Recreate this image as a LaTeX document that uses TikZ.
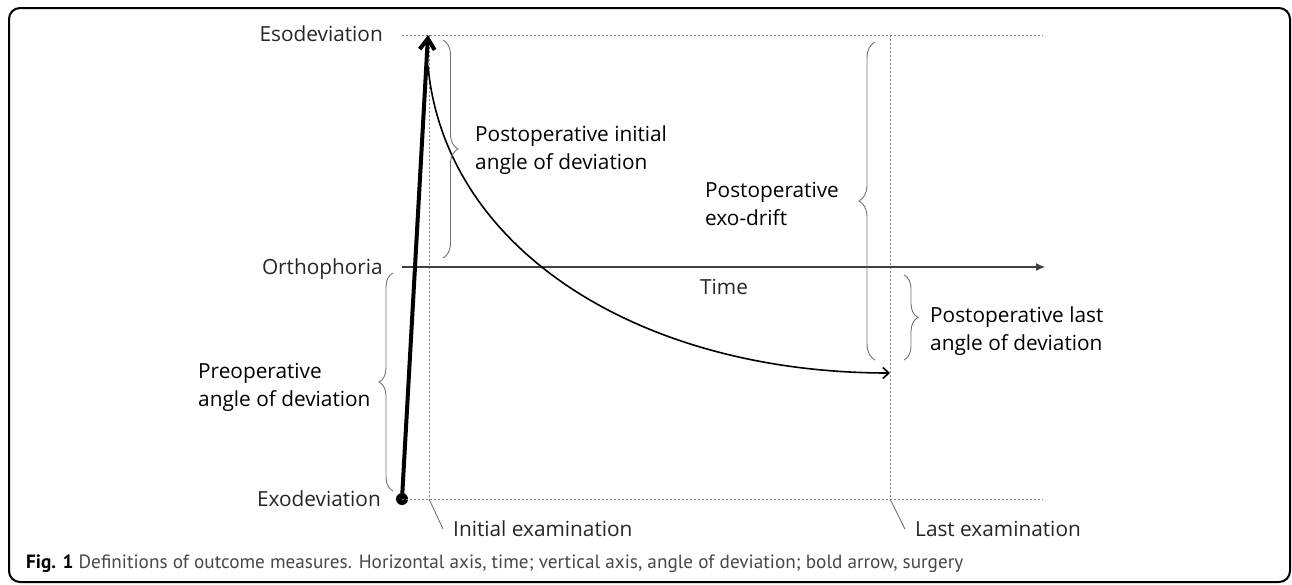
\documentclass[tikz,border=0pt]{standalone}
\usepackage{fontspec}
\setmainfont{Open Sans}
\newfontfamily\capfont{PT Sans}
\usetikzlibrary{arrows.meta,decorations.pathreplacing}
\begin{document}
\begin{tikzpicture}[x=1pt,y=-1pt,
  dotline/.style={black!50, line width=1pt, dash pattern=on 2pt off 2pt},
  axisline/.style={black!75, line width=1.1pt, -{Latex[length=9pt,width=8pt]}},
  surgery/.style={line width=4pt, -{Straight Barb[length=11pt,width=15pt]}},
  course/.style={line width=1.6pt, -{Straight Barb[length=6pt,width=11pt]}},
  leader/.style={black!60, line width=0.8pt},
  curly/.style={decorate, decoration={brace, amplitude=#1}, draw=black!55, line width=0.9pt},
  axislbl/.style={inner sep=0pt, font=\fontsize{20.8}{28}\selectfont, text=black!85},
  lbl/.style={inner sep=0pt, font=\fontsize{20.8}{28}\selectfont, text=black},
  frame/.style={line width=2pt, rounded corners=11pt}
]
\useasboundingbox (0,0) rectangle (1292,584);
\draw[frame] (9,8) rectangle (1290,582);

% coordinates
\coordinate (esoL) at (402,35);
\coordinate (esoR) at (1043,35);
\coordinate (orthoL) at (402,267);
\coordinate (orthoR) at (1045,267);
\coordinate (exoR) at (1043,499);
\coordinate (ieTop) at (429,35);
\coordinate (ieBot) at (429,499);
\coordinate (leTop) at (890,35);
\coordinate (leBot) at (890,499);
\coordinate (peak) at (428,35);
\coordinate (cStart) at (428,66);
\coordinate (cEnd) at (890,373);
\node[circle, fill=black, inner sep=0pt, minimum size=12pt] (start) at (402,499) {};

% guide lines
\draw[dotline] (esoL) -- (esoR);
\draw[dotline] (start.center) -- (exoR);
\draw[dotline] (ieTop) -- (ieBot);
\draw[dotline] (leTop) -- (leBot);
\draw[axisline] (orthoL) -- (orthoR);

% surgery arrow and postoperative course
\draw[surgery] (start.center) -- (peak);
\draw[course] (cStart) .. controls (445,250) and (640,373) .. (cEnd);

% braces
\draw[curly=15] (443,40) -- (443,258);
\draw[curly=14] (393,491) -- (393,273);
\draw[curly=16] (875,360) -- (875,42);
\draw[curly=14] (904,275) -- (904,360);

% axis labels
\node[axislbl, anchor=base east] (esoText) at (383,41.7) {Esodeviation};
\node[axislbl, anchor=base east] (orthoText) at (383,274) {Orthophoria};
\node[axislbl, anchor=base east] (exoText) at (381,506.7) {Exodeviation};
\node[axislbl, anchor=base west] (timeText) at (700,294) {Time};
\node[axislbl, anchor=base west] (ieText) at (453,536.7) {Initial examination};
\node[axislbl, anchor=base west] (leText) at (915,536.7) {Last examination};
\draw[leader] (ieBot) -- ([xshift=-10pt]ieText.west);
\draw[leader] (leBot) -- ([xshift=-10pt]leText.west);

% brace labels
\node[lbl, anchor=base west] (pi1) at (475,141) {Postoperative initial};
\node[lbl, anchor=base west] (pi2) at (475,169) {angle of deviation};
\node[lbl, anchor=base west] (ed1) at (705,197) {Postoperative};
\node[lbl, anchor=base west] (ed2) at (705,225) {exo-drift};
\node[lbl, anchor=base west] (pl1) at (930,322) {Postoperative last};
\node[lbl, anchor=base west] (pl2) at (930,350) {angle of deviation};
\node[lbl, anchor=base west] (pr1) at (198,378) {Preoperative};
\node[lbl, anchor=base west] (pr2) at (198,406) {angle of deviation};

% caption
\node[inner sep=0pt, anchor=base west] (caption) at (26,568)
  {\resizebox{937pt}{!}{\capfont\textbf{Fig. 1} \textcolor{black!72}{Definitions of outcome measures. Horizontal axis, time; vertical axis, angle of deviation; bold arrow, surgery}}};
\end{tikzpicture}
\end{document}
